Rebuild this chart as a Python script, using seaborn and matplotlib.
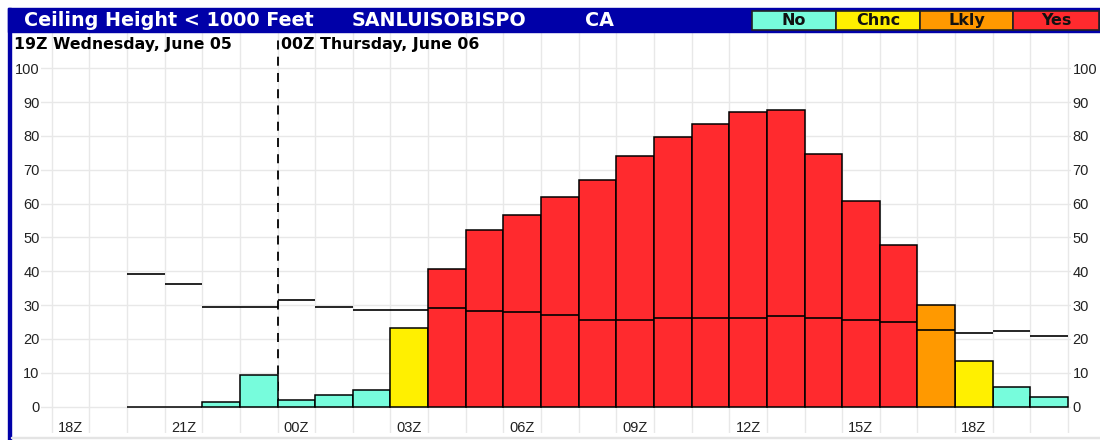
import matplotlib
matplotlib.use('Agg')
import matplotlib.pyplot as plt
from matplotlib.patches import Rectangle
import seaborn as sns
import pandas as pd
import numpy as np

# %%  data

# every hourly slot on the x axis, 18Z day 1 through 20Z day 2
slot_labels = ['18Z', '19Z', '20Z', '21Z', '22Z', '23Z',
               '00Z', '01Z', '02Z', '03Z', '04Z', '05Z', '06Z', '07Z', '08Z',
               '09Z', '10Z', '11Z', '12Z', '13Z', '14Z', '15Z', '16Z', '17Z',
               '18Z', '19Z', '20Z']

# forecast slots (20Z day 1 -> 20Z day 2)
first_slot = 2
prob = [0, 0, 1.5, 9.2, 1.9, 3.4, 4.9, 23.2, 40.7, 52.2, 56.6, 61.9, 66.9,
        74.0, 79.8, 83.6, 87.1, 87.6, 74.6, 60.9, 47.7, 30.0, 13.5, 5.7, 2.9]
normal = [39.3, 36.3, 29.4, 29.4, 31.4, 29.5, 28.5, 28.5, 29.0, 28.2, 28.0,
          27.1, 25.6, 25.6, 26.2, 26.1, 26.1, 26.7, 26.1, 25.5, 25.0, 22.7,
          21.8, 22.3, 20.8]
category = ['No'] * 7 + ['Chnc'] + ['Yes'] * 13 + ['Lkly', 'Chnc', 'No', 'No']

legend_cats = ['No', 'Chnc', 'Lkly', 'Yes']
cat_colors = {'No': '#77fcdc', 'Chnc': '#fff000', 'Lkly': '#ff9900', 'Yes': '#ff2a2e'}

title = 'Ceiling Height < 1000 Feet'
station = 'SANLUISOBISPO'
state = 'CA'
day1 = '19Z Wednesday, June 05'
day2 = '00Z Thursday, June 06'
day2_slot = 6

# %%  figure

plt.rcParams['font.family'] = ['Liberation Sans', 'DejaVu Sans']
navy = '#0000a8'
wide = ['DejaVu Sans']   # header texts are set wider in the original

W, H = 1100, 440
fig = plt.figure(figsize=(11, 4.4), dpi=100)
ax = fig.add_axes([41 / W, 7 / H, 1030 / W, 401 / H])

slots = np.arange(first_slot, first_slot + len(prob))
df = pd.DataFrame({'slot': slots, 'prob': prob, 'cat': category})

sns.barplot(data=df, x='slot', y='prob', hue='cat', palette=cat_colors,
            native_scale=True, dodge=False, width=1, errorbar=None,
            saturation=1, edgecolor='black', linewidth=1.1, legend=False,
            ax=ax, zorder=2)

# climatology line, one flat segment per hour
ax.hlines(normal, slots - 0.5, slots + 0.5, color='black', lw=1.2, zorder=3)

# day break
ax.vlines(day2_slot - 0.5, 0, 108.5, color='black', lw=1.3,
          linestyles=(0, (5, 4)), zorder=1)

ax.set_xlim(-0.784, 26.58)
ax.set_ylim(-7.8, 110.7)

ax.set_xticks(np.arange(0, len(slot_labels), 3))
ax.set_xticklabels(slot_labels[::3])
ax.set_xticks(np.arange(-0.5, len(slot_labels)), minor=True)
ax.set_yticks(range(0, 101, 10))
ax.grid(which='minor', axis='x', color='#e8e8e8', lw=1, zorder=0)
ax.grid(which='major', axis='y', color='#e8e8e8', lw=1, zorder=0)
ax.grid(which='major', axis='x', visible=False)
ax.set_axisbelow(True)

ax.tick_params(axis='x', which='both', length=0, pad=-8.5, labelsize=10.5,
               labelcolor='#222222')
ax.tick_params(axis='y', length=0, pad=1, labelsize=10.5, labelcolor='#222222',
               labelright=True)
ax.set_xlabel('')
ax.set_ylabel('')
for s in ax.spines.values():
    s.set_visible(False)

# day labels
fig.text(14 / W, 1 - 44 / H, day1, fontsize=11.3, fontweight='bold',
         va='center', ha='left', family=wide)
ax.text(day2_slot - 0.42, 107.0, day2, fontsize=11.3, fontweight='bold',
        va='center', ha='left', family=wide)

# %%  header bar and legend

fig.patches.append(Rectangle((8 / W, 1 - 32 / H), 1092 / W, 24 / H,
                             transform=fig.transFigure, color=navy, zorder=0))
fig.patches.append(Rectangle((8 / W, 0), 3 / W, 1 - 8 / H,
                             transform=fig.transFigure, color=navy, zorder=0))
fig.patches.append(Rectangle((11 / W, 2 / H), 1089 / W, 1 / H,
                             transform=fig.transFigure, color='#e4e4e4', zorder=0))

for x0, txt in [(24, title), (352, station), (585, state)]:
    fig.text(x0 / W, 1 - 20 / H, txt, color='white', fontsize=13.8,
             fontweight='bold', va='center', ha='left', family=wide)

box_edges = [752, 836, 920, 1013, 1099]
for i, cat in enumerate(legend_cats):
    x0, x1 = box_edges[i], box_edges[i + 1]
    fig.patches.append(Rectangle((x0 / W, 1 - 30 / H), (x1 - x0) / W, 19 / H,
                                 transform=fig.transFigure, facecolor=cat_colors[cat],
                                 edgecolor='#222222', lw=1.2, zorder=1))
    fig.text((x0 + x1) / 2 / W, 1 - 20.5 / H, cat, fontsize=11.5,
             fontweight='bold', va='center', ha='center', color='#111111',
             family=wide)

fig.savefig('out.png', dpi=100)
